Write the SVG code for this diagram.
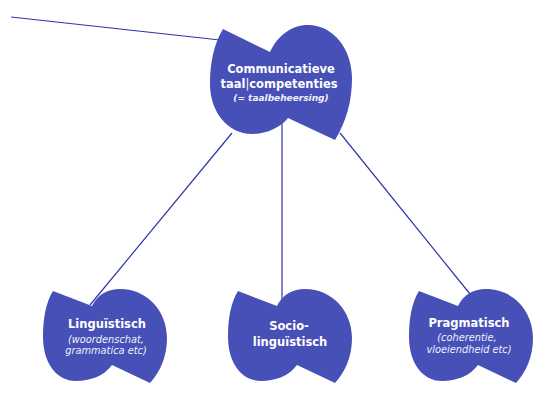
<svg xmlns="http://www.w3.org/2000/svg" width="549" height="408" viewBox="0 0 549 408">
<style>
.blob{fill:#4750b7}
.ln{stroke:#2e36aa;stroke-width:1.2;fill:none}
.t{font-family:"DejaVu Sans",sans-serif;font-weight:bold;fill:#fff;text-anchor:middle}
.s{font-family:"DejaVu Sans",sans-serif;font-style:italic;fill:#f0f0fa;text-anchor:middle}
</style>
<defs>
<path id="b" d="M53,291 L92,306 C98,294 108,289 120,289 C148,289 167,312 167,338 C167,357 160,372 150,383 L112,365 C104,376 90,381 76,381 C56,381 43,362 43,337 C43,318 46,302 53,291 Z"/>
</defs>
<rect width="549" height="408" fill="#fff"/>
<g id="connectors">
<line class="ln" x1="11" y1="17" x2="220" y2="40"/>
<line class="ln" x1="232" y1="133" x2="90" y2="305"/>
<line class="ln" x1="282" y1="118" x2="282" y2="306"/>
<line class="ln" x1="340" y1="133" x2="470" y2="294"/>
</g>
<g id="node-top">
<path class="blob" d="M223,29 L270,52 C278,35 292,25 308,25 C334,25 352,50 352,78 C352,102 346,122 335,140 L288,118 C280,128 266,134 252,134 C228,134 210,112 210,84 C210,62 214,44 223,29 Z"/>
<text class="t" x="281" y="73" font-size="11.5">Communicatieve</text>
<text class="t" x="279" y="88" font-size="11.5">taal<tspan font-weight="normal">|</tspan>competenties</text>
<text class="s" x="281" y="101" font-size="9" font-weight="bold">(= taalbeheersing)</text>
</g>
<g id="node-ling">
<use href="#b" class="blob"/>
<text class="t" x="107" y="328" font-size="11.5">Linguïstisch</text>
<text class="s" x="106" y="343" font-size="9.8">(woordenschat,</text>
<text class="s" x="106" y="354" font-size="9.8">grammatica etc)</text>
</g>
<g id="node-socio">
<use href="#b" class="blob" transform="translate(185,0)"/>
<text class="t" x="289" y="330" font-size="11.5">Socio-</text>
<text class="t" x="290" y="346" font-size="11.5">linguïstisch</text>
</g>
<g id="node-prag">
<use href="#b" class="blob" transform="translate(366,0)"/>
<text class="t" x="469" y="327" font-size="11.5">Pragmatisch</text>
<text class="s" x="467" y="341" font-size="9.8">(coherentie,</text>
<text class="s" x="469" y="353" font-size="9.8">vloeiendheid etc)</text>
</g>
</svg>
